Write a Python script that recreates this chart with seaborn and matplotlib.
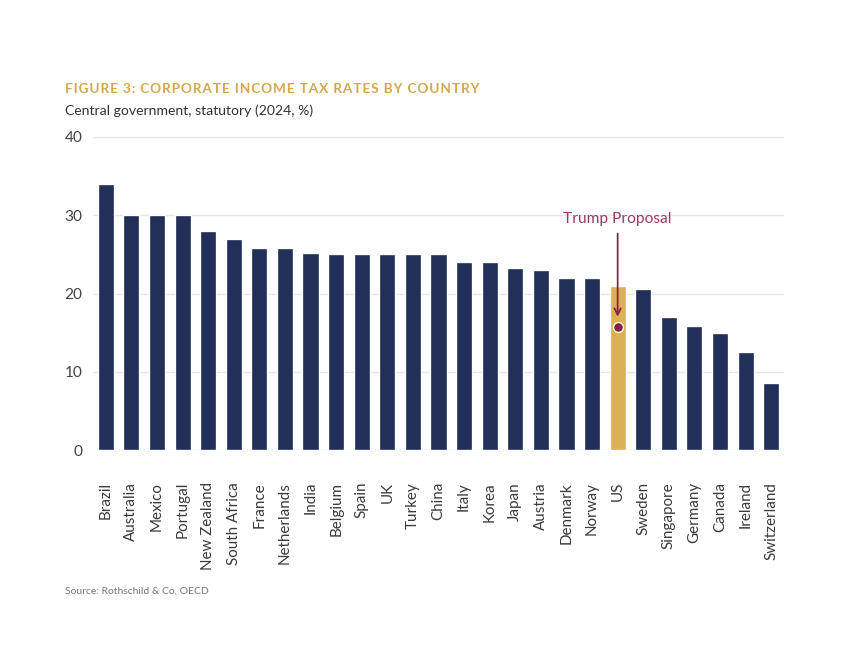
import matplotlib
matplotlib.use("Agg")
import matplotlib.pyplot as plt
import seaborn as sns
import pandas as pd

countries = ["Brazil", "Australia", "Mexico", "Portugal", "New Zealand", "South Africa",
             "France", "Netherlands", "India", "Belgium", "Spain", "UK", "Turkey", "China",
             "Italy", "Korea", "Japan", "Austria", "Denmark", "Norway", "US", "Sweden",
             "Singapore", "Germany", "Canada", "Ireland", "Switzerland"]
rates = [34, 30, 30, 30, 28, 27, 25.8, 25.8, 25.2, 25, 25, 25, 25, 25,
         24, 24, 23.2, 23, 22, 22, 21, 20.6, 17, 15.8, 15, 12.5, 8.5]
trump_proposal = 15.7
highlight = "US"
yticks = [0, 10, 20, 30, 40]

NAVY = "#222f59"
GOLD = "#dcb055"
MAROON = "#8c1d40"

sns.set_theme(style="white")
plt.rcParams["font.family"] = ["Lato", "DejaVu Sans"]

df = pd.DataFrame({"country": countries, "rate": rates})
palette = {c: (GOLD if c == highlight else NAVY) for c in countries}

fig = plt.figure(figsize=(9, 7), dpi=96)
ax = fig.add_axes([93/864, 1 - 450/672, 691/864, 313/672])
sns.barplot(data=df, x="country", y="rate", hue="country", palette=palette,
            legend=False, width=0.63, ax=ax, saturation=1)

ax.set_xlim(-0.5, len(countries) - 0.5)
ax.set_ylim(0, 40)
ax.set_yticks(yticks)
ax.yaxis.grid(True, color="#e6e6e6", linewidth=1)
ax.set_axisbelow(True)
for s in ax.spines.values():
    s.set_visible(False)
ax.set_xlabel("")
ax.set_ylabel("")
ax.tick_params(axis="x", rotation=90, labelsize=11.3, colors="#3a3a3a", pad=24, length=0)
ax.tick_params(axis="y", labelsize=11.5, colors="#444444", pad=8, length=0)
for lab in ax.get_xticklabels():
    lab.set_va("top")

ui = countries.index(highlight)
ax.scatter([ui], [trump_proposal], s=55, color=MAROON, edgecolor="white", linewidth=1, zorder=5)
ax.annotate("", xy=(ui, trump_proposal + 1.0), xytext=(ui, 28.0),
            arrowprops=dict(arrowstyle="->", color=MAROON, lw=1.3))
ax.text(ui, 28.6, "Trump Proposal", ha="center", va="bottom", fontsize=11.6,
        color="#9a3b63")

title = "FIGURE 3: CORPORATE INCOME TAX RATES BY COUNTRY"
spaced = "\u200a".join(title)
fig.text(65/864, 1 - 89/672, spaced,
         fontsize=10.2, fontweight="bold", color="#d4a84b", va="center", ha="left")
fig.text(65/864, 1 - 111/672, "Central government, statutory (2024, %)",
         fontsize=10.5, color="#333333", va="center", ha="left")
fig.text(65/864, 1 - 591/672, "Source: Rothschild & Co, OECD",
         fontsize=7.8, color="#777777", va="center", ha="left")

fig.savefig("out.png", dpi=96, facecolor="white")
